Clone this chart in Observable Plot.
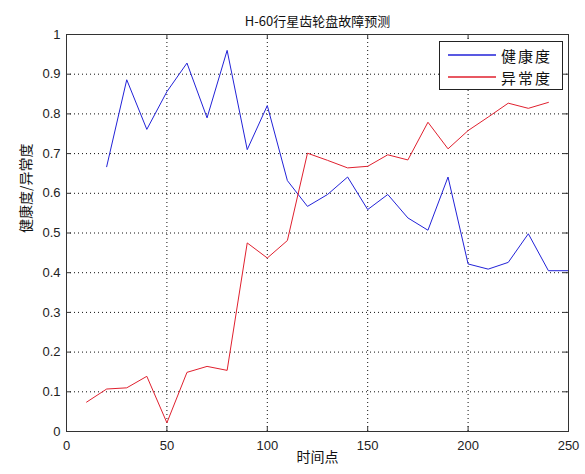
<!DOCTYPE html>
<html>
<head>
<meta charset="utf-8">
<script src="https://cdn.jsdelivr.net/npm/d3@7"></script>
<script src="https://cdn.jsdelivr.net/npm/@observablehq/plot@0.6"></script>
<style>
  body { margin: 0; background: #fff; }
  #chart { position: relative; width: 585px; height: 474px; }
  .legend {
    position: absolute; left: 439px; top: 41px; width: 124px; height: 49px;
    box-sizing: border-box; border: 1px solid #222; background: #fff;
    font-family: "Noto Sans CJK SC", sans-serif; font-size: 15px; color: #111;
  }
  .legend .row { position: absolute; left: 0; height: 20px; display: flex; align-items: center; }
  .legend svg { display: block; margin-left: 8px; margin-right: 5px; }
  .legend .label { letter-spacing: 2px; }
</style>
</head>
<body>
<div id="chart"></div>
<script>
// Health index series (blue)
const healthX = [20, 30, 40, 50, 60, 70, 80, 90, 100, 110, 120, 130, 140, 150, 160, 170, 180, 190, 200, 210, 220, 230, 240, 250];
const healthY = [0.667, 0.886, 0.761, 0.856, 0.928, 0.790, 0.960, 0.710, 0.821, 0.632, 0.567, 0.597, 0.641, 0.559, 0.597, 0.538, 0.507, 0.641, 0.422, 0.409, 0.426, 0.498, 0.405, 0.405];

// Anomaly index series (red)
const anomalyX = [10, 20, 30, 40, 50, 60, 70, 80, 90, 100, 110, 120, 130, 140, 150, 160, 170, 180, 190, 200, 210, 220, 230, 240];
const anomalyY = [0.074, 0.107, 0.110, 0.139, 0.022, 0.149, 0.164, 0.154, 0.475, 0.437, 0.481, 0.701, 0.683, 0.664, 0.668, 0.697, 0.684, 0.779, 0.712, 0.758, 0.792, 0.827, 0.814, 0.829];

const seriesNames = ["健康度", "异常度"];
const seriesColors = ["#2222d8", "#e0202e"];

const xTicks = [0, 50, 100, 150, 200, 250];
const yTicks = [0, 0.1, 0.2, 0.3, 0.4, 0.5, 0.6, 0.7, 0.8, 0.9, 1];

const titleText = "H-60行星齿轮盘故障预测";
const xLabel = "时间点";
const yLabel = "健康度/异常度";

const healthData = healthX.map((x, i) => ({x, y: healthY[i]}));
const anomalyData = anomalyX.map((x, i) => ({x, y: anomalyY[i]}));

const W = 585, H = 474;
const mL = 66, mR = 17, mT = 34, mB = 43;
const plotW = W - mL - mR, plotH = H - mT - mB;
const tickLen = 5;
const cjk = "'Noto Sans CJK SC', sans-serif";
const latin = "'Liberation Sans', Arial, sans-serif";

const plot = Plot.plot({
  width: W, height: H,
  marginLeft: mL, marginRight: mR, marginTop: mT, marginBottom: mB,
  style: { background: "#fff", fontFamily: latin, fontSize: "13px", color: "#222" },
  x: { domain: [0, 250], label: null },
  y: { domain: [0, 1], label: null },
  marks: [
    // dotted grid
    Plot.ruleX(xTicks.slice(1, -1), { stroke: "#111", strokeWidth: 1, strokeDasharray: "1,3" }),
    Plot.ruleY(yTicks.slice(1, -1), { stroke: "#111", strokeWidth: 1, strokeDasharray: "1,3" }),
    // series
    Plot.line(healthData, { x: "x", y: "y", stroke: seriesColors[0], strokeWidth: 1 }),
    Plot.line(anomalyData, { x: "x", y: "y", stroke: seriesColors[1], strokeWidth: 1 }),
    // inward ticks on all four sides
    Plot.tickX(xTicks, { x: d => d, stroke: "#333", insetTop: plotH - tickLen }),
    Plot.tickX(xTicks, { x: d => d, stroke: "#333", insetBottom: plotH - tickLen }),
    Plot.tickY(yTicks, { y: d => d, stroke: "#333", insetRight: plotW - tickLen }),
    Plot.tickY(yTicks, { y: d => d, stroke: "#333", insetLeft: plotW - tickLen }),
    // tick labels
    Plot.axisX(xTicks, { tickSize: 0, tickPadding: 9, tickFormat: d => String(d), fontSize: 13, fill: "#222", label: null }),
    Plot.axisY(yTicks, { tickSize: 0, tickPadding: 6, tickFormat: d => String(d), fontSize: 13, fill: "#222", label: null }),
    Plot.frame({ stroke: "#333", strokeWidth: 1 }),
    // title and axis labels
    Plot.text([titleText], { frameAnchor: "top", dy: -18, fontSize: 13, fontFamily: cjk, fill: "#111" }),
    Plot.text([xLabel], { frameAnchor: "bottom", dy: 30, fontSize: 14, fontFamily: cjk, fill: "#111" }),
    Plot.text([yLabel], { frameAnchor: "left", dx: -40, rotate: -90, fontSize: 14, fontFamily: cjk, fill: "#111" })
  ]
});

const chart = document.getElementById("chart");
chart.appendChild(plot);

// legend box with a line sample for each series
const svgNS = "http://www.w3.org/2000/svg";
const legend = document.createElement("div");
legend.className = "legend";
seriesNames.forEach((name, i) => {
  const row = document.createElement("div");
  row.className = "row";
  row.style.top = (3 + i * 22) + "px";
  const sw = document.createElementNS(svgNS, "svg");
  sw.setAttribute("width", "48");
  sw.setAttribute("height", "6");
  const ln = document.createElementNS(svgNS, "line");
  ln.setAttribute("x1", "0"); ln.setAttribute("x2", "48");
  ln.setAttribute("y1", "3"); ln.setAttribute("y2", "3");
  ln.setAttribute("stroke", seriesColors[i]);
  ln.setAttribute("stroke-width", "1.4");
  sw.appendChild(ln);
  const lb = document.createElement("span");
  lb.className = "label";
  lb.textContent = name;
  row.appendChild(sw);
  row.appendChild(lb);
  legend.appendChild(row);
});
chart.appendChild(legend);
</script>
</body>
</html>
